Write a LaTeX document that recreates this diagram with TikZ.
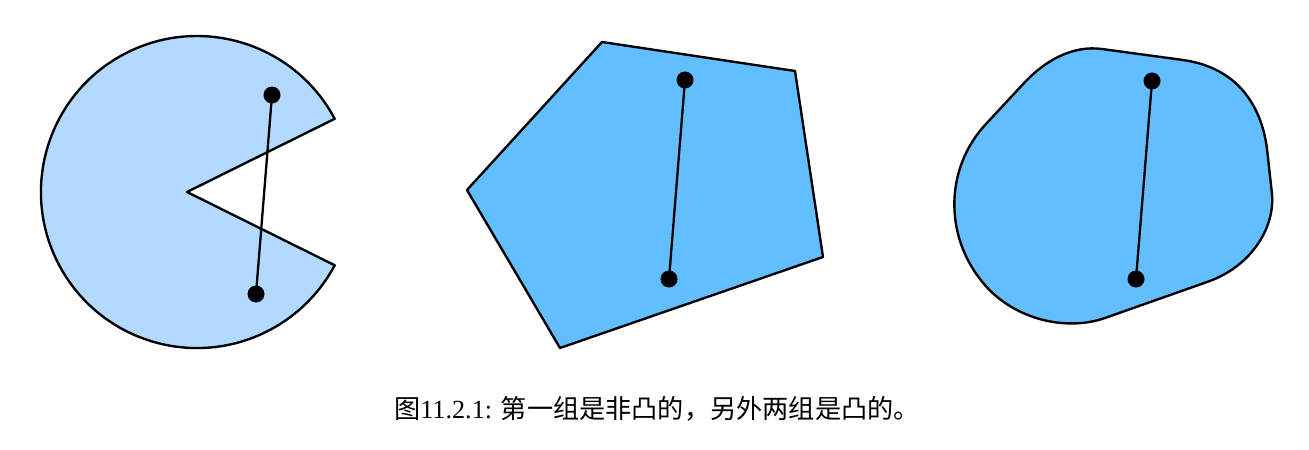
\documentclass[tikz,border=0pt]{standalone}
\usepackage{fontspec}
\setmainfont{Liberation Serif}
\newfontfamily\cjk{Noto Sans CJK SC}
\definecolor{lightfill}{RGB}{178,217,255}
\definecolor{midfill}{RGB}{99,190,255}
\begin{document}
\begin{tikzpicture}[x=0.2mm,y=0.2mm,
  shapeline/.style={draw=black,line width=1.35pt,line join=round},
  dot/.style={circle,fill=black,inner sep=0pt,minimum size=3.4mm},
  seg/.style={draw=black,line width=1.3pt}]
\useasboundingbox (0,0) rectangle (1309,449);
% pacman (non-convex)
\path[shapeline,fill=lightfill] (187,257) -- (334.7,330.2) arc[start angle=28,end angle=332,radius=156] -- cycle;
\node[dot] (p1) at (272,354) {};
\node[dot] (p2) at (256,155) {};
\draw[seg] (p1.center) -- (p2.center);
% pentagon
\path[shapeline,fill=midfill] (602,407) -- (795,378) -- (823,192) -- (560,101) -- (467,259) -- cycle;
\node[dot] (q1) at (685,369) {};
\node[dot] (q2) at (669,170) {};
\draw[seg] (q1.center) -- (q2.center);
% blob
\path[shapeline,fill=midfill] (985,324) -- (1025,367)
  .. controls (1045,388) and (1072,404) .. (1102,400) -- (1183,389)
  .. controls (1240,381) and (1262,340) .. (1267,300) -- (1272,255)
  .. controls (1275,218) and (1248,181) .. (1207,167) -- (1105,131)
  .. controls (1065,117) and (1010,130) .. (980,170)
  .. controls (945,215) and (945,280) .. (985,324) -- cycle;
\node[dot] (r1) at (1152,368) {};
\node[dot] (r2) at (1136,170) {};
\draw[seg] (r1.center) -- (r2.center);
% caption
\node[anchor=base,font=\fontsize{14.9}{17}\selectfont] (cap) at (657,31) {{\cjk 图}11.2.1: {\cjk 第一组是非凸的，另外两组是凸的。}};
\end{tikzpicture}
\end{document}
